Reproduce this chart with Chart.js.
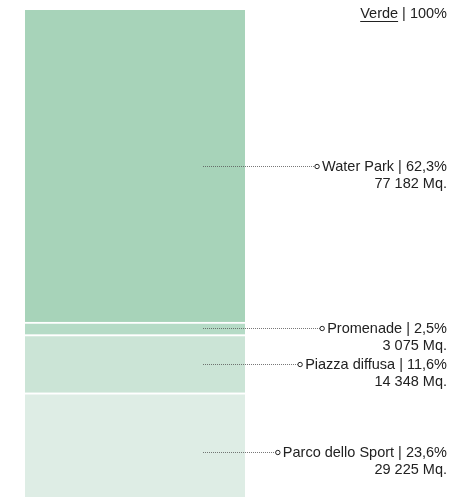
<!DOCTYPE html>
<html>
<head>
<meta charset="utf-8">
<script src="https://cdn.jsdelivr.net/npm/chart.js@4/dist/chart.umd.min.js"></script>
<style>
  html, body { margin: 0; padding: 0; background: #fff; overflow: hidden; }
  #wrap { position: relative; width: 472px; height: 512px; }
</style>
</head>
<body>
<div id="wrap"><canvas id="verdeChart"></canvas></div>
<script>
// bottom to top, same order as the stack
const categories = ['Parco dello Sport', 'Piazza diffusa', 'Promenade', 'Water Park'];
const shares = [23.6, 11.6, 2.5, 62.3];
const areas = [29225, 14348, 3075, 77182];
const colors = ['#deede5', '#cbe4d6', '#b5dbc6', '#a7d3b9'];

const FONT = '14.5px "Liberation Sans", Arial, sans-serif';
const TEXT_RIGHT = 447;

function fmtArea(v) {
  return String(v).replace(/\B(?=(\d{3})+(?!\d))/g, ' ') + ' Mq.';
}
function fmtShare(v) {
  return v.toFixed(1).replace('.', ',') + '%';
}

// leader lines + labels on the right of the bar
const calloutPlugin = {
  id: 'callouts',
  afterDatasetsDraw(chart) {
    const ctx = chart.ctx;
    ctx.save();
    ctx.font = FONT;
    ctx.fillStyle = '#222';
    ctx.textBaseline = 'middle';
    ctx.textAlign = 'right';

    // header
    const head = 'Verde';
    const tail = ' | 100%';
    const tailW = ctx.measureText(tail).width;
    const headW = ctx.measureText(head).width;
    ctx.fillText(tail, TEXT_RIGHT, 14);
    ctx.fillText(head, TEXT_RIGHT - tailW, 14);
    ctx.fillRect(TEXT_RIGHT - tailW - headW, 21, headW, 1);

    chart.data.datasets.forEach((ds, i) => {
      const bar = chart.getDatasetMeta(i).data[0];
      const y = Math.round((bar.y + bar.base) / 2) + 0.5;
      const line1 = categories[i] + ' | ' + fmtShare(shares[i]);
      const w = ctx.measureText(line1).width;
      const cx = TEXT_RIGHT - w - 5;

      ctx.strokeStyle = '#555';
      ctx.lineWidth = 0.8;
      ctx.setLineDash([1, 1]);
      ctx.beginPath();
      ctx.moveTo(bar.x + 68, y);
      ctx.lineTo(cx - 2.2, y);
      ctx.stroke();

      ctx.setLineDash([]);
      ctx.strokeStyle = '#222';
      ctx.lineWidth = 1;
      ctx.beginPath();
      ctx.arc(cx, y, 2.2, 0, Math.PI * 2);
      ctx.stroke();

      ctx.fillText(line1, TEXT_RIGHT, y);
      ctx.fillText(fmtArea(areas[i]), TEXT_RIGHT, y + 17);
    });
    ctx.restore();
  }
};

new Chart(document.getElementById('verdeChart'), {
  type: 'bar',
  data: {
    labels: ['Verde'],
    datasets: categories.map((c, i) => ({
      label: c,
      data: [shares[i]],
      backgroundColor: colors[i],
      borderColor: '#ffffff',
      borderWidth: i === categories.length - 1 ? 0 : { top: 2, bottom: 0, left: 0, right: 0 },
      borderSkipped: false,
      categoryPercentage: 1,
      barPercentage: 1
    }))
  },
  options: {
    responsive: true,
    maintainAspectRatio: false,
    animation: false,
    layout: { padding: { left: 25, right: 227, top: 10, bottom: 1 } },
    scales: {
      x: { stacked: true, display: false },
      y: { stacked: true, display: false, min: 0, max: 100 }
    },
    plugins: {
      legend: { display: false },
      tooltip: { enabled: false }
    }
  },
  plugins: [calloutPlugin]
});
</script>
</body>
</html>
